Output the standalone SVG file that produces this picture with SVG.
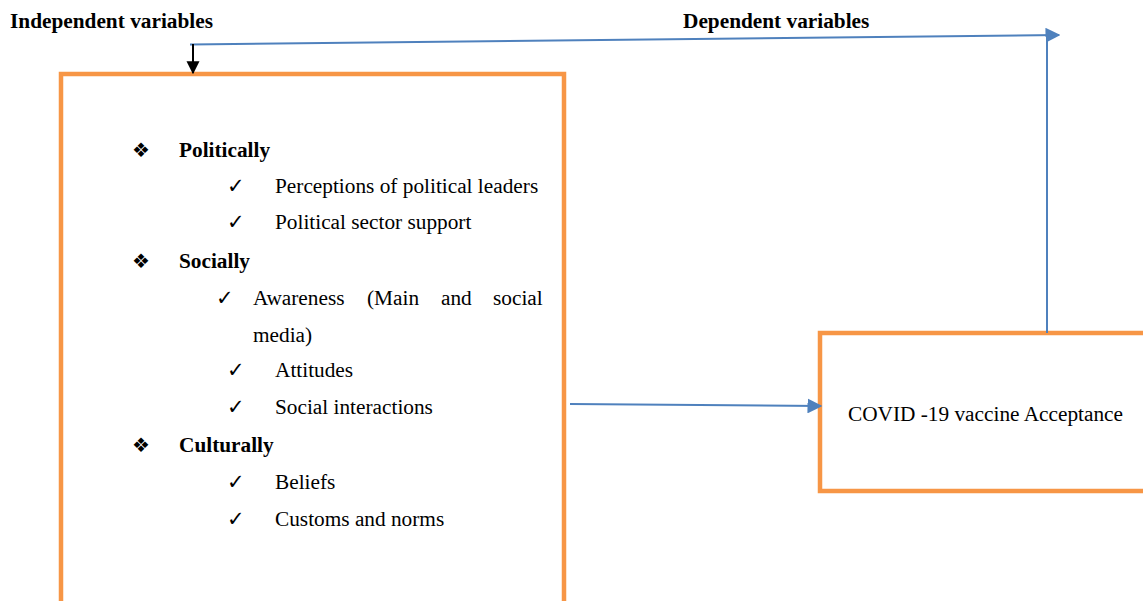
<svg xmlns="http://www.w3.org/2000/svg" width="1143" height="601" viewBox="0 0 1143 601">
  <style>
    .box { fill: #ffffff; stroke: #F79646; stroke-width: 4.5; }
    .link { fill: none; stroke: #4F81BD; stroke-width: 2; }
    .txt { font-family: "Liberation Serif", "Times New Roman", serif; font-size: 21.3px; fill: #000000; }
    .hd { font-weight: bold; }
    .sym { font-family: "DejaVu Sans", sans-serif; fill: #000000; }
    .dia { font-size: 20px; }
    .chk { font-size: 21px; }
  </style>
  <defs>
    <!-- filled triangle heads; sizes in user units so they don't scale with stroke -->
    <marker id="blueHead" viewBox="0 0 10 10" refX="9" refY="5" markerWidth="15" markerHeight="15" orient="auto" markerUnits="userSpaceOnUse">
      <path d="M0,0 L10,5 L0,10 Z" fill="#4F81BD"/>
    </marker>
    <marker id="blackHead" viewBox="0 0 10 10" refX="9" refY="5" markerWidth="13" markerHeight="16" orient="auto" markerUnits="userSpaceOnUse">
      <path d="M0,0 L10,5 L0,10 Z" fill="#000000"/>
    </marker>
  </defs>

  <rect width="1143" height="601" fill="#ffffff"/>

  <!-- headings -->
  <text class="txt hd" x="10" y="28">Independent variables</text>
  <text class="txt hd" x="683" y="28">Dependent variables</text>

  <!-- independent variables box -->
  <g id="independent">
    <rect class="box" x="61" y="74" width="503" height="560"/>
    <text class="sym dia" x="132" y="157">❖</text>
    <text class="txt hd" x="179" y="157">Politically</text>
    <text class="sym chk" x="227" y="193">✓</text>
    <text class="txt" x="275" y="193">Perceptions of political leaders</text>
    <text class="sym chk" x="227" y="229">✓</text>
    <text class="txt" x="275" y="229">Political sector support</text>

    <text class="sym dia" x="132" y="268">❖</text>
    <text class="txt hd" x="179" y="268">Socially</text>
    <text class="sym chk" x="216" y="305">✓</text>
    <text class="txt" x="253" y="305">Awareness</text>
    <text class="txt" x="367" y="305">(Main</text>
    <text class="txt" x="441" y="305">and</text>
    <text class="txt" x="493" y="305">social</text>
    <text class="txt" x="253" y="342">media)</text>
    <text class="sym chk" x="227" y="377">✓</text>
    <text class="txt" x="275" y="377">Attitudes</text>
    <text class="sym chk" x="227" y="414">✓</text>
    <text class="txt" x="275" y="414">Social interactions</text>

    <text class="sym dia" x="132" y="452">❖</text>
    <text class="txt hd" x="179" y="452">Culturally</text>
    <text class="sym chk" x="227" y="489">✓</text>
    <text class="txt" x="275" y="489">Beliefs</text>
    <text class="sym chk" x="227" y="526">✓</text>
    <text class="txt" x="275" y="526">Customs and norms</text>
  </g>

  <!-- dependent variable box -->
  <g id="acceptance">
    <rect class="box" x="820" y="333" width="340" height="158"/>
    <text class="txt" x="848" y="421">COVID -19 vaccine Acceptance</text>
  </g>

  <!-- connectors -->
  <g id="connectors">
    <line class="link" x1="1047" y1="333" x2="1047" y2="36"/>
    <line class="link" x1="190" y1="44.5" x2="1059" y2="35" marker-end="url(#blueHead)"/>
    <line x1="193" y1="44" x2="193" y2="73" stroke="#000000" stroke-width="2" marker-end="url(#blackHead)"/>
    <line class="link" x1="570" y1="404" x2="821" y2="406" marker-end="url(#blueHead)"/>
  </g>
</svg>
